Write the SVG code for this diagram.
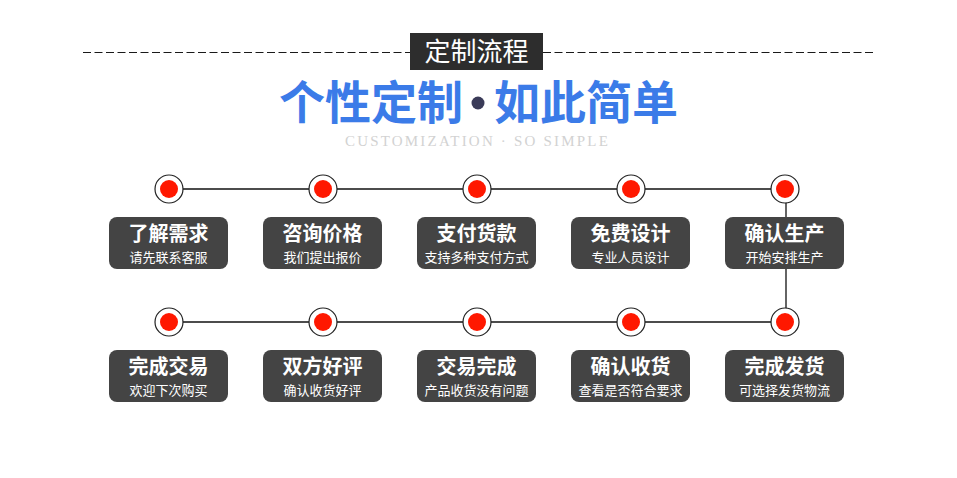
<svg xmlns="http://www.w3.org/2000/svg" width="957" height="478" viewBox="0 0 957 478">
<style>
.box{fill:#444444;}
.t{font-family:"Noto Sans CJK SC","Noto Sans",sans-serif;fill:#ffffff;text-anchor:middle;}
.tt{font-size:20px;font-weight:bold;}
.ts{font-size:13px;}
.ring{fill:#ffffff;stroke:#222222;stroke-width:1.2;}
.dot{fill:#ff1800;}
.ln{stroke:#111111;stroke-width:1.3;fill:none;}
</style>
<rect width="957" height="478" fill="#ffffff"/>
<g id="header">
<line x1="83" y1="52.5" x2="873" y2="52.5" stroke="#1a1a1a" stroke-width="1" stroke-dasharray="8,3.5"/>
<rect x="410" y="33" width="133" height="37" fill="#2d2d2d"/>
<text x="476.5" y="61" font-family="Noto Sans CJK SC,sans-serif" font-size="26" fill="#ffffff" text-anchor="middle">定制流程</text>
<text x="371" y="119" font-family="Noto Sans CJK SC,sans-serif" font-size="46" font-weight="bold" fill="#3b7be8" text-anchor="middle">个性定制</text>
<circle cx="478" cy="103" r="6.5" fill="#3a3b58"/>
<text x="586" y="119" font-family="Noto Sans CJK SC,sans-serif" font-size="46" font-weight="bold" fill="#3b7be8" text-anchor="middle">如此简单</text>
<text x="477.5" y="146" font-family="Liberation Serif,serif" font-size="15" fill="#d2d2d2" text-anchor="middle" letter-spacing="2.2">CUSTOMIZATION · SO SIMPLE</text>
</g>
<g id="connectors">
<line class="ln" x1="169" y1="189" x2="785" y2="189"/>
<line class="ln" x1="169" y1="322" x2="785" y2="322"/>
<line class="ln" x1="786" y1="189" x2="786" y2="322"/>
</g>
<g id="n1"><circle class="ring" cx="169" cy="189" r="14"/><circle class="dot" cx="169" cy="189" r="9"/><rect class="box" x="109" y="217" width="119" height="52" rx="8"/><text class="t tt" x="168.5" y="241">了解需求</text><text class="t ts" x="168.5" y="262">请先联系客服</text></g>
<g id="n2"><circle class="ring" cx="323" cy="189" r="14"/><circle class="dot" cx="323" cy="189" r="9"/><rect class="box" x="263" y="217" width="119" height="52" rx="8"/><text class="t tt" x="322.5" y="241">咨询价格</text><text class="t ts" x="322.5" y="262">我们提出报价</text></g>
<g id="n3"><circle class="ring" cx="477" cy="189" r="14"/><circle class="dot" cx="477" cy="189" r="9"/><rect class="box" x="417" y="217" width="119" height="52" rx="8"/><text class="t tt" x="476.5" y="241">支付货款</text><text class="t ts" x="476.5" y="262">支持多种支付方式</text></g>
<g id="n4"><circle class="ring" cx="631" cy="189" r="14"/><circle class="dot" cx="631" cy="189" r="9"/><rect class="box" x="571" y="217" width="119" height="52" rx="8"/><text class="t tt" x="630.5" y="241">免费设计</text><text class="t ts" x="630.5" y="262">专业人员设计</text></g>
<g id="n5"><circle class="ring" cx="785" cy="189" r="14"/><circle class="dot" cx="785" cy="189" r="9"/><rect class="box" x="725" y="217" width="119" height="52" rx="8"/><text class="t tt" x="784.5" y="241">确认生产</text><text class="t ts" x="784.5" y="262">开始安排生产</text></g>
<g id="n6"><circle class="ring" cx="785" cy="322" r="14"/><circle class="dot" cx="785" cy="322" r="9"/><rect class="box" x="725" y="350" width="119" height="52" rx="8"/><text class="t tt" x="784.5" y="374">完成发货</text><text class="t ts" x="784.5" y="395">可选择发货物流</text></g>
<g id="n7"><circle class="ring" cx="631" cy="322" r="14"/><circle class="dot" cx="631" cy="322" r="9"/><rect class="box" x="571" y="350" width="119" height="52" rx="8"/><text class="t tt" x="630.5" y="374">确认收货</text><text class="t ts" x="630.5" y="395">查看是否符合要求</text></g>
<g id="n8"><circle class="ring" cx="477" cy="322" r="14"/><circle class="dot" cx="477" cy="322" r="9"/><rect class="box" x="417" y="350" width="119" height="52" rx="8"/><text class="t tt" x="476.5" y="374">交易完成</text><text class="t ts" x="476.5" y="395">产品收货没有问题</text></g>
<g id="n9"><circle class="ring" cx="323" cy="322" r="14"/><circle class="dot" cx="323" cy="322" r="9"/><rect class="box" x="263" y="350" width="119" height="52" rx="8"/><text class="t tt" x="322.5" y="374">双方好评</text><text class="t ts" x="322.5" y="395">确认收货好评</text></g>
<g id="n10"><circle class="ring" cx="169" cy="322" r="14"/><circle class="dot" cx="169" cy="322" r="9"/><rect class="box" x="109" y="350" width="119" height="52" rx="8"/><text class="t tt" x="168.5" y="374">完成交易</text><text class="t ts" x="168.5" y="395">欢迎下次购买</text></g>
</svg>
